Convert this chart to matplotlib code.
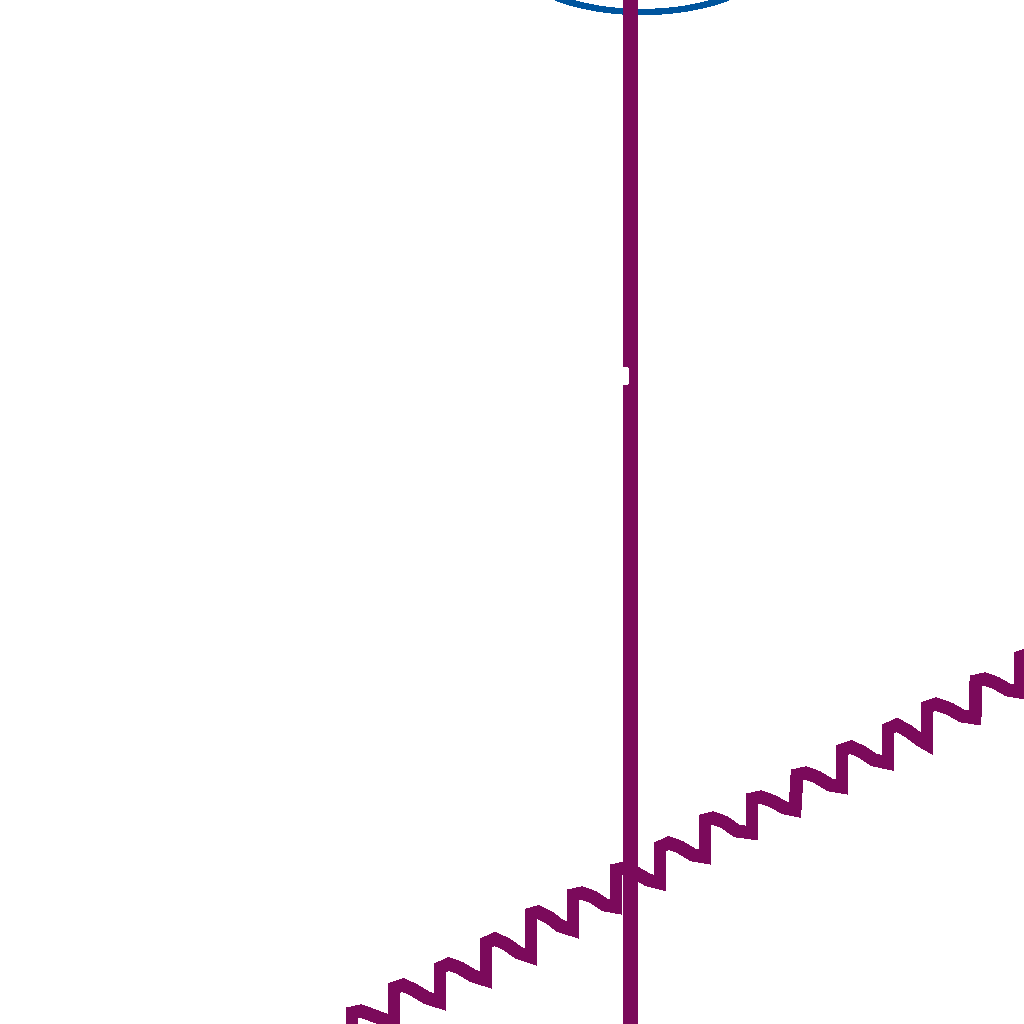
import matplotlib
matplotlib.use("Agg")
import matplotlib.pyplot as plt
from matplotlib.patches import Ellipse, Rectangle

# stepped rising trace (x, y in chart units, y grows downward)
trace_x = [352, 352, 361, 372, 385, 394,
           394, 403, 414, 427, 440,
           440, 449, 460, 473, 486,
           486, 495, 506, 519, 531,
           531, 538, 550, 560, 573,
           573, 582, 593, 605, 616,
           616, 625, 636, 648, 660,
           660, 669, 680, 693, 705,
           705, 713, 724, 737, 752,
           752, 761, 772, 785, 795,
           797, 806, 817, 830, 842,
           842, 851, 862, 874, 888,
           888, 897, 908, 920, 927,
           927, 936, 950, 962, 975,
           976, 985, 996, 1008, 1020,
           1020, 1029, 1040]
trace_y = [1040, 1013, 1011, 1015, 1020, 1024,
           988, 985, 990, 998, 1002,
           968, 964, 968, 976, 980,
           943, 939, 944, 953, 957,
           914, 912, 918, 926, 930,
           895, 893, 897, 905, 907,
           870, 868, 873, 880, 883,
           847, 843, 847, 855, 857,
           820, 818, 822, 831, 833,
           799, 797, 801, 808, 810,
           775, 773, 777, 785, 787,
           750, 747, 752, 760, 763,
           729, 725, 731, 740, 744,
           707, 704, 709, 716, 718,
           681, 679, 683, 690, 692,
           657, 654, 658]

# vertical marker line
marker_x = 629.5
marker_gap = (368, 383)

# outline ring (centre x, lowest point y, half width, half height)
ring = (642, 12.0, 138, 66)

purple = "#7b0a5b"
blue = "#00559e"

fig = plt.figure(figsize=(10.24, 10.24), dpi=100)
ax = fig.add_axes([0, 0, 1, 1])
ax.set_xlim(0, 1024)
ax.set_ylim(1024, 0)
ax.axis("off")

cx, low, a, b = ring
ax.add_patch(Ellipse((cx, low - b), 2 * a, 2 * b, fill=False,
                     edgecolor=blue, linewidth=3.8, antialiased=False))

ax.plot(trace_x, trace_y, color=purple, linewidth=8.6,
        solid_joinstyle="miter", antialiased=False)

ax.plot([marker_x, marker_x], [-20, 1044], color=purple, linewidth=10.8,
        solid_capstyle="butt", antialiased=False)
ax.add_patch(Rectangle((marker_x - 7.5, marker_gap[0]), 5,
                       marker_gap[1] - marker_gap[0], color="white",
                       antialiased=False, zorder=5))

fig.savefig("out.png", dpi=100)
